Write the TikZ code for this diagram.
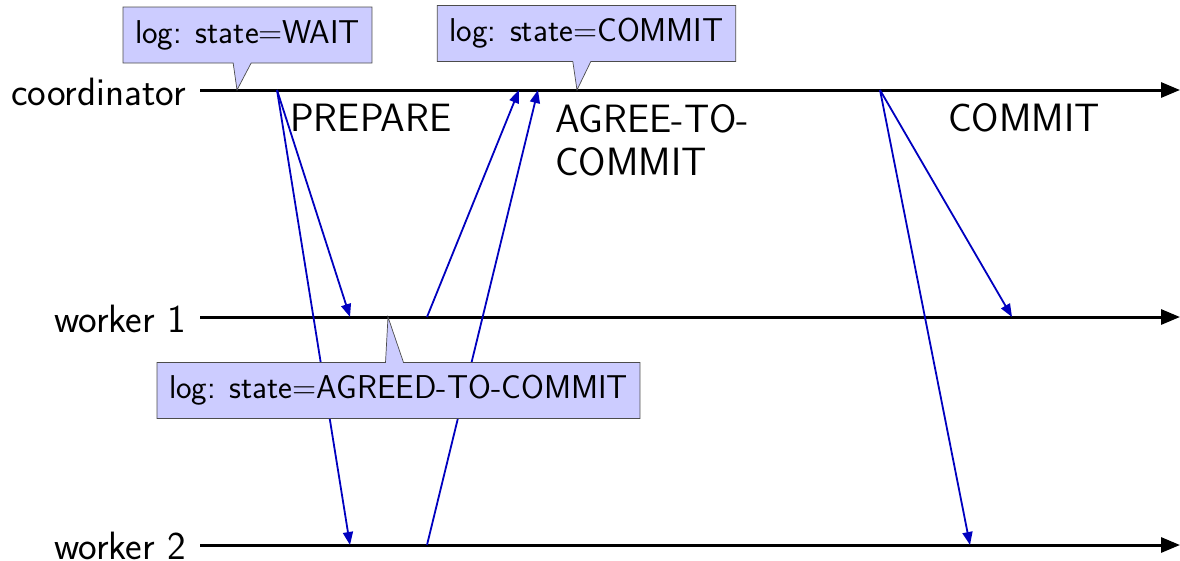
\documentclass[tikz,border=0pt]{standalone}
\usetikzlibrary{arrows.meta,shapes.callouts}
\begin{document}
\begin{tikzpicture}[x=1pt,y=-1pt,
  lbl/.style={font=\sffamily\fontsize{39.5}{43}\selectfont, inner sep=0pt},
  proc/.style={font=\sffamily\fontsize{39.5}{44}\selectfont, anchor=east, inner sep=0pt},
  timeline/.style={line width=3pt, -{Triangle[length=19pt,width=15pt]}},
  msg/.style={line width=1.8pt, draw=blue!75!black, -{Triangle[length=13pt,width=10pt]}},
  logbox/.style={rectangle callout, draw=black!70, line width=0.7pt, fill=blue!20,
    font=\sffamily\fontsize{33}{38}\selectfont, minimum height=56pt, inner xsep=12pt,
    callout pointer width=18pt}]
  \useasboundingbox (0,0) rectangle (1180,560);

  % process names
  \node[proc] (coord) at (186,92) {coordinator};
  \node[proc] (w1) at (186,319) {worker 1};
  \node[proc] (w2) at (186,546) {worker 2};

  % time lines
  \coordinate (cs) at (200,90);   \coordinate (ce) at (1180,90);
  \coordinate (w1s) at (200,317); \coordinate (w1e) at (1180,317);
  \coordinate (w2s) at (200,545); \coordinate (w2e) at (1180,545);
  \draw[timeline] (cs) -- (ce);
  \draw[timeline] (w1s) -- (w1e);
  \draw[timeline] (w2s) -- (w2e);

  % message endpoints
  \coordinate (prep) at (277,90);
  \coordinate (prep1) at (350,317);
  \coordinate (prep2) at (350,545);
  \coordinate (ag1s) at (427,317);
  \coordinate (ag1e) at (519,90);
  \coordinate (ag2s) at (427,545);
  \coordinate (ag2e) at (538,90);
  \coordinate (com) at (880,90);
  \coordinate (com1) at (1012,317);
  \coordinate (com2) at (970,545);

  % messages
  \draw[msg] (prep) -- (prep1);
  \draw[msg] (prep) -- (prep2);
  \draw[msg] (ag1s) -- (ag1e);
  \draw[msg] (ag2s) -- (ag2e);
  \draw[msg] (com) -- (com1);
  \draw[msg] (com) -- (com2);

  % message names
  \node[lbl, anchor=base west] (lprep) at (290,131) {PREPARE};
  \node[lbl, anchor=north west, align=left] (lagree) at (555,104) {AGREE-TO-\\COMMIT};
  \node[lbl, anchor=base west] (lcommit) at (948,131) {COMMIT};

  % log records
  \coordinate (pw) at (237,90);
  \coordinate (pc) at (577,90);
  \coordinate (pa) at (388,317);
  \node[logbox, callout absolute pointer={(pw)}] (logwait) at (247.5,35) {log: state=WAIT};
  \node[logbox, callout absolute pointer={(pc)}] (logcommit) at (586.5,33.5) {log: state=COMMIT};
  \node[logbox, callout absolute pointer={(pa)}] (logagreed) at (398.5,390.5) {log: state=AGREED-TO-COMMIT};
\end{tikzpicture}
\end{document}
